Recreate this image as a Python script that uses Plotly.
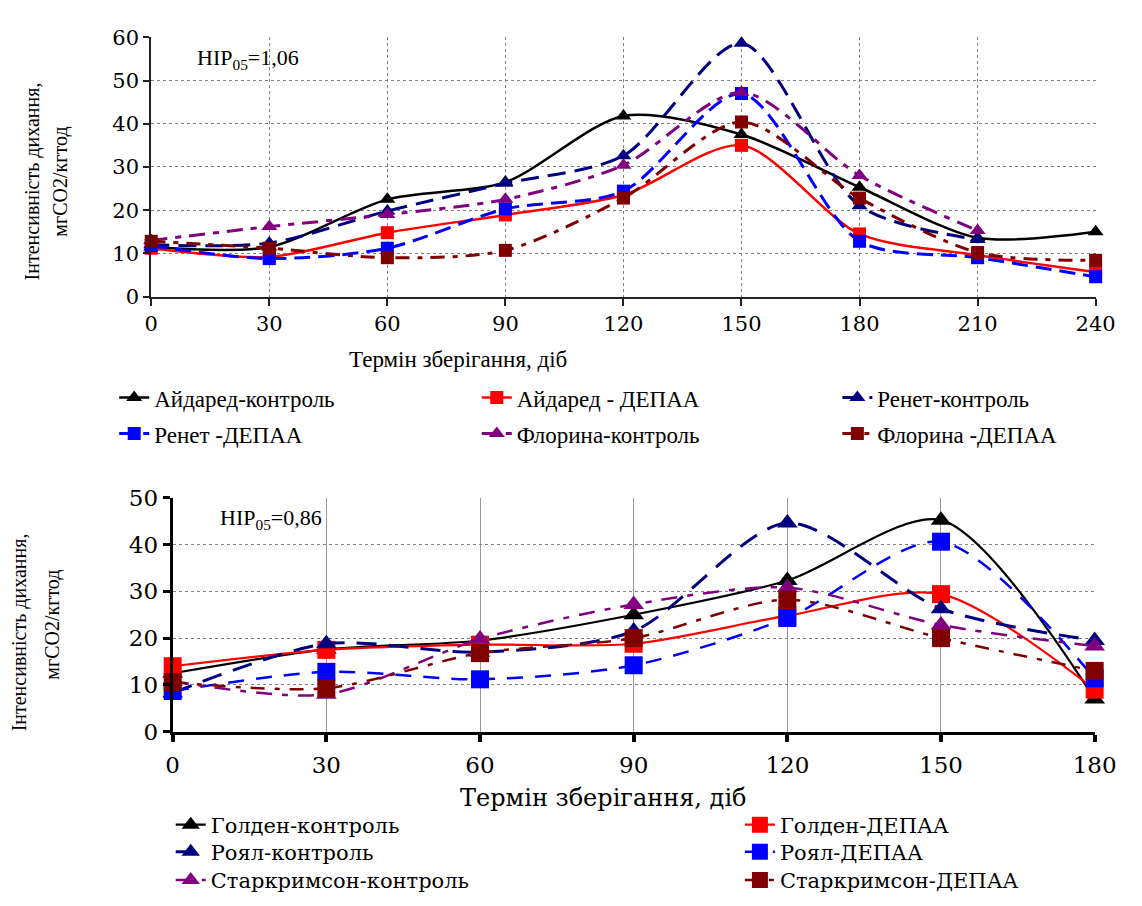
import plotly.graph_objects as go

W, H = 1142, 906

# ---------------- data ----------------
top_days = [0, 30, 60, 90, 120, 150, 180, 210, 240]
aidared_control = [11.5, 11.5, 22.5, 26.5, 41.8, 37.5, 25.3, 13.6, 15.0]
aidared_depaa = [11.2, 9.2, 14.8, 18.9, 23.5, 35.0, 14.5, 9.6, 5.7]
renet_control = [12.0, 12.4, 19.8, 26.2, 32.6, 58.6, 21.0, 13.2, None]
renet_depaa = [11.8, 8.8, 11.2, 20.3, 24.4, 47.0, 12.8, 9.0, 4.6]
florina_control = [13.0, 16.2, 19.0, 22.5, 30.4, 47.3, 28.0, 15.3, None]
florina_depaa = [12.8, 11.2, 9.0, 10.7, 22.8, 40.4, 22.8, 10.2, 8.4]

bot_days = [0, 30, 60, 90, 120, 150, 180]
golden_control = [12.5, 17.6, 19.5, 25.0, 32.3, 45.2, 7.0]
golden_depaa = [14.0, 17.5, 18.6, 18.8, 24.8, 29.4, 9.0]
royal_control = [8.3, 18.8, 17.0, 21.5, 44.6, 26.3, 19.5]
royal_depaa = [8.7, 12.8, 11.2, 14.2, 24.3, 40.6, 11.4]
stark_control = [10.8, 8.0, 19.8, 27.2, 30.8, 22.8, 18.3]
stark_depaa = [10.6, 9.3, 16.8, 20.0, 28.2, 20.0, 13.0]

top_names = ["Айдаред-контроль", "Айдаред - ДЕПАА", "Ренет-контроль",
             "Ренет -ДЕПАА", "Флорина-контроль", "Флорина -ДЕПАА"]
bot_names = ["Голден-контроль", "Голден-ДЕПАА", "Роял-контроль",
             "Роял-ДЕПАА", "Старкримсон-контроль", "Старкримсон-ДЕПАА"]

top_ticks = [0, 30, 60, 90, 120, 150, 180, 210, 240]
bot_ticks = [0, 30, 60, 90, 120, 150, 180]

SERIF = "Liberation Serif, Tinos, Times New Roman, Times, serif"
WIDE = "DejaVu Serif, serif"


def px(x):
    return x / W


def py(y):
    return 1 - y / H


styles = [
    dict(color="#000000", dash="solid", width=2.5, symbol="triangle-up"),
    dict(color="#FF0000", dash="solid", width=2.5, symbol="square"),
    dict(color="#000080", dash="18px,9px", width=3, symbol="triangle-up"),
    dict(color="#0000FF", dash="16px,8px", width=3, symbol="square"),
    dict(color="#800080", dash="16px,8px,6px,8px", width=3, symbol="triangle-up"),
    dict(color="#800000", dash="14px,8px,5px,8px", width=3, symbol="square"),
]
bot_styles = [
    dict(color="#000000", dash="solid", width=2.2, symbol="triangle-up"),
    dict(color="#FF0000", dash="solid", width=2.2, symbol="square"),
    dict(color="#000080", dash="20px,12px", width=3, symbol="triangle-up"),
    dict(color="#0000FF", dash="16px,12px", width=2.5, symbol="square"),
    dict(color="#800080", dash="16px,10px,6px,10px", width=2.5, symbol="triangle-up"),
    dict(color="#800000", dash="14px,10px,5px,10px", width=2.5, symbol="square"),
]

fig = go.Figure()

top_series = [aidared_control, aidared_depaa, renet_control, renet_depaa, florina_control, florina_depaa]
for i, (name, ys) in enumerate(zip(top_names, top_series)):
    st = styles[i]
    fig.add_trace(go.Scatter(
        x=top_days, y=ys, name=name, mode="lines+markers",
        line=dict(color=st["color"], dash=st["dash"], width=st["width"], shape="spline", smoothing=0.8),
        marker=dict(symbol=st["symbol"], size=14 if "triangle" in st["symbol"] else 13, color=st["color"]),
        xaxis="x", yaxis="y", cliponaxis=False,
        legend="legend" if i == 0 else "legend%d" % (i + 1),
    ))

bot_series = [golden_control, golden_depaa, royal_control, royal_depaa, stark_control, stark_depaa]
for i, (name, ys) in enumerate(zip(bot_names, bot_series)):
    st = bot_styles[i]
    fig.add_trace(go.Scatter(
        x=bot_days, y=ys, name=name, mode="lines+markers",
        line=dict(color=st["color"], dash=st["dash"], width=st["width"], shape="spline", smoothing=0.8),
        marker=dict(symbol=st["symbol"], size=18, color=st["color"]),
        xaxis="x2", yaxis="y2", cliponaxis=False,
        legend="legend%d" % (i + 7),
    ))

tick_font_top = dict(family=WIDE, size=21, color="#000")
tick_font_bot = dict(family=WIDE, size=23, color="#000")

fig.update_layout(
    width=W, height=H,
    margin=dict(l=0, r=0, t=0, b=0),
    paper_bgcolor="white", plot_bgcolor="white",
    showlegend=True,
    xaxis=dict(domain=[px(148), px(1117)], range=[0, 240], tickvals=top_ticks,
               showgrid=True, gridcolor="#808080", griddash="dot", gridwidth=1,
               showline=True, linecolor="#222", linewidth=2,
               ticks="outside", ticklen=7, tickwidth=2, tickcolor="#222",
               tickfont=tick_font_top, zeroline=False, anchor="y"),
    yaxis=dict(domain=[py(292), py(25)], range=[0, 60], dtick=10,
               showgrid=True, gridcolor="#808080", griddash="dot", gridwidth=1,
               showline=True, linecolor="#222", linewidth=2,
               ticks="outside", ticklen=6, tickwidth=2, tickcolor="#222",
               tickfont=tick_font_top, zeroline=False, anchor="x"),
    xaxis2=dict(domain=[px(170), px(1116)], range=[0, 180], tickvals=bot_ticks,
                showgrid=True, gridcolor="#999999", gridwidth=1,
                showline=True, linecolor="#000", linewidth=3,
                ticks="outside", ticklen=7, tickwidth=4, tickcolor="#000",
                tickfont=tick_font_bot, ticklabelstandoff=4, zeroline=False, anchor="y2"),
    yaxis2=dict(domain=[py(740), py(499)], range=[0, 50], dtick=10,
                showgrid=True, gridcolor="#808080", griddash="dot", gridwidth=1,
                showline=True, linecolor="#000", linewidth=3,
                ticks="outside", ticklen=7, tickwidth=3, tickcolor="#000",
                tickfont=tick_font_bot, zeroline=False, anchor="x2"),
)

top_leg_font = dict(family=SERIF, size=23, color="#000")
bot_leg_font = dict(family=WIDE, size=21, color="#000")

# legend text start x, row center y
top_leg_pos = [(155, 396), (527, 396), (897, 396), (155, 433), (527, 433), (897, 433)]
bot_leg_pos = [(213, 836), (797, 836), (213, 864), (797, 864), (213, 893), (797, 893)]

legends = {}
for i, (tx, ty) in enumerate(top_leg_pos):
    key = "legend" if i == 0 else "legend%d" % (i + 1)
    legends[key] = dict(x=px(tx - 45), y=py(ty), xanchor="left", yanchor="middle",
                        font=top_leg_font, bgcolor="rgba(0,0,0,0)", borderwidth=0)
for i, (tx, ty) in enumerate(bot_leg_pos):
    key = "legend%d" % (i + 7)
    legends[key] = dict(x=px(tx - 45), y=py(ty), xanchor="left", yanchor="middle",
                        font=bot_leg_font, bgcolor="rgba(0,0,0,0)", borderwidth=0)
fig.update_layout(**legends)

ann = []
ann.append(dict(x=px(193), y=py(47), xref="paper", yref="paper", xanchor="left", yanchor="middle",
                text="НІР<sub>05</sub>=1,06", showarrow=False, font=dict(family=SERIF, size=22, color="#000")))
ann.append(dict(x=px(217), y=py(521), xref="paper", yref="paper", xanchor="left", yanchor="middle",
                text="НІР<sub>05</sub>=0,86", showarrow=False, font=dict(family=SERIF, size=22, color="#000")))
ann.append(dict(x=px(463), y=py(357), xref="paper", yref="paper", xanchor="center", yanchor="middle",
                text="Термін зберігання, діб", showarrow=False, font=dict(family=SERIF, size=23, color="#000")))
ann.append(dict(x=px(612), y=py(808), xref="paper", yref="paper", xanchor="center", yanchor="middle",
                text="Термін зберігання, діб", showarrow=False, font=dict(family=WIDE, size=24, color="#000")))
ann.append(dict(x=px(26), y=py(173), xref="paper", yref="paper", xanchor="center", yanchor="middle",
                text="Інтенсивність дихання,", textangle=-90, showarrow=False,
                font=dict(family=SERIF, size=20, color="#000")))
ann.append(dict(x=px(54), y=py(174), xref="paper", yref="paper", xanchor="center", yanchor="middle",
                text="мгСО2/кгтод", textangle=-90, showarrow=False,
                font=dict(family=SERIF, size=20, color="#000")))
ann.append(dict(x=px(13), y=py(638), xref="paper", yref="paper", xanchor="center", yanchor="middle",
                text="Інтенсивність дихання,", textangle=-90, showarrow=False,
                font=dict(family=SERIF, size=20, color="#000")))
ann.append(dict(x=px(47), y=py(630), xref="paper", yref="paper", xanchor="center", yanchor="middle",
                text="мгСО2/кгтод", textangle=-90, showarrow=False,
                font=dict(family=SERIF, size=20, color="#000")))
fig.update_layout(annotations=ann)

fig.write_html("out.html")
